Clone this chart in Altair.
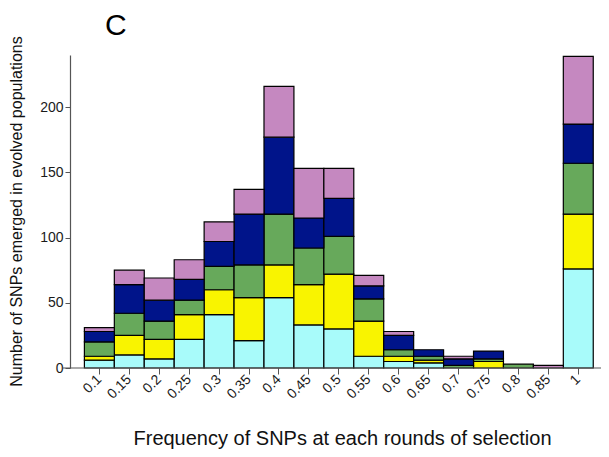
import altair as alt
import pandas as pd

cats = ["0.1", "0.15", "0.2", "0.25", "0.3", "0.35", "0.4", "0.45", "0.5", "0.55",
        "0.6", "0.65", "0.7", "0.75", "0.8", "0.85", "0.9", "0.95", "1"]
series_names = ["S1", "S2", "S3", "S4", "S5"]
s1 = [6, 10, 7, 22, 41, 21, 54, 33, 30, 9, 5, 4, 0, 0, 0, 0, 0, 0, 76]
s2 = [3, 15, 15, 19, 19, 33, 25, 31, 42, 27, 4, 2, 0, 5, 0, 0, 0, 0, 42]
s3 = [11, 17, 14, 11, 18, 25, 39, 28, 29, 17, 5, 3, 2, 2, 3, 0, 0, 0, 39]
s4 = [8, 22, 16, 16, 19, 39, 59, 23, 29, 10, 11, 5, 5, 6, 0, 0, 0, 0, 30]
s5 = [3, 11, 17, 15, 15, 19, 39, 38, 23, 8, 3, 0, 2, 0, 0, 2, 0, 0, 52]
colors = ["#a8fbfa", "#f9f400", "#67a95b", "#00148a", "#c588c0"]
y_ticks = [0, 50, 100, 150, 200]

rows = []
for k, (name, vals) in enumerate(zip(series_names, [s1, s2, s3, s4, s5])):
    for c, v in zip(cats, vals):
        rows.append({"freq": c, "series": name, "order": k, "count": v})
df = pd.DataFrame(rows)

FONT = "Liberation Sans"
W, H = 531, 313

bars = alt.Chart(df).transform_filter("datum.count > 0").mark_bar(
    stroke="black", strokeWidth=1.2
).encode(
    x=alt.X("freq:N", sort=cats,
            scale=alt.Scale(paddingInner=0, paddingOuter=0.37, align=0.65),
            axis=alt.Axis(title="Frequency of SNPs at each rounds of selection",
                          labelAngle=-45, labelAlign="right", labelBaseline="middle",
                          labelFontSize=14, labelFont=FONT, labelColor="#1a1a1a",
                          labelPadding=3, tickSize=6, tickColor="#555555",
                          domain=False, titleFont=FONT, titleFontSize=20,
                          titleFontWeight="normal", titleColor="#111111",
                          titleX=272, titleY=70, titleAlign="center",
                          titleBaseline="middle")),
    y=alt.Y("count:Q", stack="zero",
            scale=alt.Scale(domain=[0, 240], nice=False),
            axis=alt.Axis(title="Number of SNPs emerged in evolved populations",
                          values=y_ticks, labelFontSize=14, labelFont=FONT,
                          labelColor="#1a1a1a", tickSize=5, tickColor="#555555",
                          domainColor="#555555", domainWidth=1.2, grid=False,
                          titleFont=FONT, titleFontSize=16, titleFontWeight="normal",
                          titleColor="#111111", titleX=-54, titleY=156,
                          titleAlign="center", titleBaseline="middle")),
    color=alt.Color("series:N", scale=alt.Scale(domain=series_names, range=colors),
                    legend=None),
    order=alt.Order("order:Q", sort="ascending"),
)

xline = alt.Chart(pd.DataFrame({"a": [0]})).mark_rule(
    color="#555555", strokeWidth=1.2
).encode(x=alt.value(-7), x2=alt.value(W), y=alt.value(H))

label_c = alt.Chart(pd.DataFrame({"t": ["C"]})).mark_text(
    font=FONT, fontSize=30, align="left", baseline="alphabetic", color="black"
).encode(text="t:N", x=alt.value(35), y=alt.value(-20))

chart = alt.layer(bars, xline, label_c).properties(
    width=W, height=H,
    autosize=alt.AutoSizeParams(type="none"),
    padding={"left": 62, "top": 47, "right": 0, "bottom": 81},
).configure_view(strokeWidth=0)

chart.save("out.html", embed_options={"renderer": "svg", "actions": False})
